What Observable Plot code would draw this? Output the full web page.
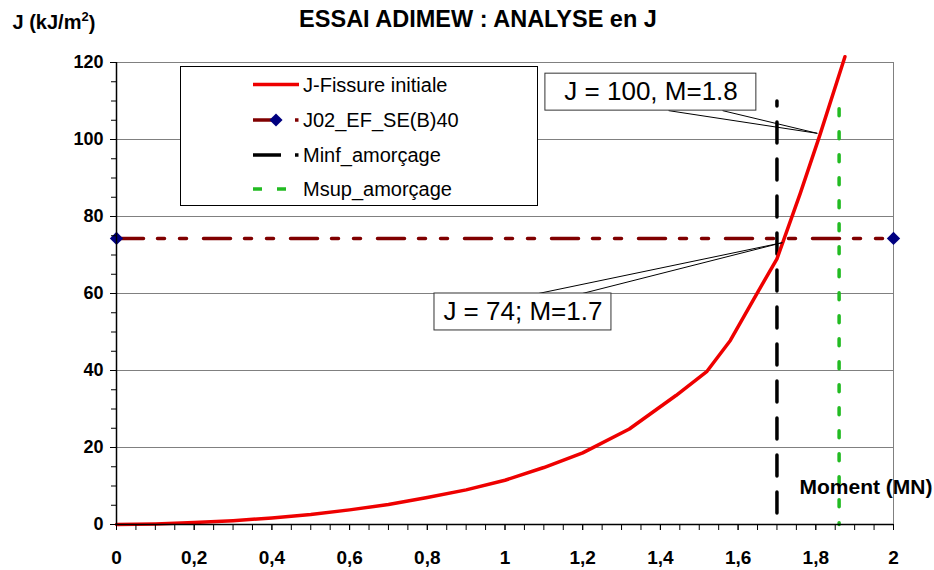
<!DOCTYPE html>
<html><head><meta charset="utf-8">
<script src="https://cdn.jsdelivr.net/npm/d3@7"></script>
<script src="https://cdn.jsdelivr.net/npm/@observablehq/plot@0.6"></script>
<style>
html,body{margin:0;padding:0;background:#fff;}
#chart svg{display:block;}
</style></head><body><div id="chart"></div>
<script>
// ---- data ----
const momentX  = [0, 0.1, 0.2, 0.3, 0.4, 0.5, 0.6, 0.7, 0.8, 0.9, 1.0, 1.1, 1.2, 1.32, 1.44, 1.52, 1.58, 1.64, 1.70, 1.76, 1.81, 1.875];
const jFissure = [0, 0.15, 0.5, 1.0, 1.7, 2.6, 3.8, 5.2, 7.0, 9.0, 11.5, 14.8, 18.6, 24.8, 33.5, 39.8, 47.8, 58.5, 69.0, 86, 101, 121.5];
const j02X = [0, 2];
const j02Value = 74.3;
const minfX = [1.7, 1.7];
const minfY = [110, 0];
const msupX = [1.86, 1.86];
const msupY = [108, 0];
const yMajor = [0, 20, 40, 60, 80, 100, 120];
const yMinor = [0,5,10,15,20,25,30,35,40,45,50,55,60,65,70,75,80,85,90,95,100,105,110,115,120];
const xMajor = [0, 0.2, 0.4, 0.6, 0.8, 1, 1.2, 1.4, 1.6, 1.8, 2];
const xMinor = [0,0.05,0.1,0.15,0.2,0.25,0.3,0.35,0.4,0.45,0.5,0.55,0.6,0.65,0.7,0.75,0.8,0.85,0.9,0.95,1,1.05,1.1,1.15,1.2,1.25,1.3,1.35,1.4,1.45,1.5,1.55,1.6,1.65,1.7,1.75,1.8,1.85,1.9,1.95,2];
const annLabels = ["J = 100, M=1.8", "J = 74; M=1.7"];
const annTextX  = [1.376, 1.046];
const annTextY  = [112.3, 55.2];
const annBoxX1  = [1.104, 0.8185];
const annBoxX2  = [1.647, 1.274];
const annBoxY1  = [107.5, 50.4];
const annBoxY2  = [117.1, 60.0];
const annBaseA  = [1.421, 1.086];
const annBaseB  = [1.560, 1.199];
const annBaseY  = [107.5, 60.0];
const annTipX   = [1.804, 1.714];
const annTipY   = [101.6, 73.2];
const legendLabels = ["J-Fissure initiale", "J02_EF_SE(B)40", "Minf_amorçage", "Msup_amorçage"];
const titleText = "ESSAI ADIMEW : ANALYSE en J";
const yLabelParts = ["J (kJ/m", "2", ")"];
const xLabelText = "Moment (MN)";

// ---- build ----
const fissure = momentX.map((m, i) => ({m, j: jFissure[i]}));
const j02 = j02X.map(x => ({x, y: j02Value}));
const minf = minfX.map((x, i) => ({x, y: minfY[i]}));
const msup = msupX.map((x, i) => ({x, y: msupY[i]}));
const ann = annLabels.map((label, i) => ({label, tx: annTextX[i], ty: annTextY[i],
  bx1: annBoxX1[i], bx2: annBoxX2[i], by1: annBoxY1[i], by2: annBoxY2[i],
  ba: annBaseA[i], bb: annBaseB[i], by: annBaseY[i], tipx: annTipX[i], tipy: annTipY[i]}));

const FONT = "'Liberation Sans', Arial, sans-serif";
const RED = "#ee0000", DARKRED = "#800000", NAVY = "#000080", GREEN = "#22bb22";
const yLabelJoined = yLabelParts.join("");

const plot = Plot.plot({
  width: 934, height: 570,
  marginLeft: 116, marginRight: 41, marginTop: 62, marginBottom: 46,
  x: {domain: [0, 2]},
  y: {domain: [0, 120]},
  style: {fontFamily: FONT, background: "#fff", overflow: "visible", color: "#000"},
  marks: [
    Plot.ruleY(yMajor.filter(v => v > 0), {stroke: "#808080", strokeWidth: 1}),
    Plot.ruleX([2], {stroke: "#808080", strokeWidth: 1}),
    Plot.line(j02, {x: "x", y: "y", stroke: DARKRED, strokeWidth: 3.5, strokeDasharray: "27,14,7,15,7,17"}),
    Plot.line(minf, {x: "x", y: "y", stroke: "#000", strokeWidth: 3.5, strokeDasharray: "21,16", strokeDashoffset: 16}),
    Plot.line(msup, {x: "x", y: "y", stroke: GREEN, strokeWidth: 3.5, strokeDasharray: "7,16"}),
    Plot.line(fissure, {x: "m", y: "j", stroke: RED, strokeWidth: 3.5}),
    Plot.dot(j02, {x: "x", y: "y", symbol: "diamond2", r: 6, fill: NAVY, stroke: "none"}),
    Plot.axisY({ticks: yMinor, tickSize: 5, tickFormat: () => "", label: null}),
    Plot.axisY({ticks: yMajor, tickSize: 6, tickPadding: 7, tickFormat: d => String(d), fontSize: 18, fontWeight: "bold", label: null}),
    Plot.axisX({ticks: xMinor, tickSize: 6, tickFormat: () => "", label: null}),
    Plot.axisX({ticks: xMajor, tickSize: 6, tickPadding: 20, tickFormat: d => String(d).replace(".", ","), fontSize: 19, fontWeight: "bold", label: null}),
    Plot.ruleX([0], {stroke: "#000", strokeWidth: 1.5}),
    Plot.ruleY([0], {stroke: "#000", strokeWidth: 1.5}),
    Plot.link(ann, {x1: "ba", y1: "by", x2: "tipx", y2: "tipy", stroke: "#000", strokeWidth: 1}),
    Plot.link(ann, {x1: "bb", y1: "by", x2: "tipx", y2: "tipy", stroke: "#000", strokeWidth: 1}),
    Plot.rect(ann, {x1: "bx1", x2: "bx2", y1: "by1", y2: "by2", fill: "#fff", stroke: "#333", strokeWidth: 1}),
    Plot.text(ann, {x: "tx", y: "ty", text: "label", fontSize: 26, fill: "#000"}),
    Plot.text([titleText], {text: d => d, frameAnchor: "top", lineAnchor: "middle", dx: -27, dy: -43, fontSize: 23.5, fontWeight: "bold"}),
    Plot.text([yLabelJoined], {text: d => d, frameAnchor: "top-left", lineAnchor: "middle", textAnchor: "start", dx: -104, dy: -40, fontSize: 20, fontWeight: "bold"}),
    Plot.text([xLabelText], {text: d => d, frameAnchor: "bottom-right", lineAnchor: "middle", textAnchor: "end", dx: 39, dy: -37, fontSize: 21, fontWeight: "bold"})
  ]
});
document.getElementById("chart").appendChild(plot);

// ---- layout touches ----
const svg = d3.select(plot);
const yl = svg.selectAll("text").filter(function() { return this.textContent === yLabelJoined; });
if (!yl.empty()) {
  yl.text(null);
  yl.append("tspan").text(yLabelParts[0]);
  yl.append("tspan").attr("font-size", 13).attr("dy", "-0.6em").text(yLabelParts[1]);
  yl.append("tspan").attr("dy", "0.43em").text(yLabelParts[2]);
}
const xl = svg.selectAll("text").filter(function() { return this.textContent === xLabelText; });
if (!xl.empty()) {
  const node = xl.node();
  const bb = node.getBBox();
  d3.select(node.parentNode).insert("rect", () => node)
    .attr("x", bb.x - 6).attr("y", bb.y - 3).attr("width", bb.width + 8).attr("height", bb.height + 6).attr("fill", "#fff");
}
const lg = svg.append("g").attr("font-family", FONT).attr("text-anchor", "start");
lg.append("rect").attr("x", 180.5).attr("y", 66.5).attr("width", 357).attr("height", 139).attr("fill", "#fff").attr("stroke", "#000").attr("stroke-width", 1);
const rowY = [84.5, 120, 155, 189];
lg.append("line").attr("x1", 253).attr("x2", 299).attr("y1", rowY[0]).attr("y2", rowY[0]).attr("stroke", RED).attr("stroke-width", 3.5);
lg.append("line").attr("x1", 253).attr("x2", 276).attr("y1", rowY[1]).attr("y2", rowY[1]).attr("stroke", DARKRED).attr("stroke-width", 3.5);
lg.append("path").attr("d", d3.symbol(d3.symbolDiamond2, 110)()).attr("transform", `translate(276,${rowY[1]})`).attr("fill", NAVY);
lg.append("rect").attr("x", 295).attr("y", rowY[1] - 1.75).attr("width", 3.5).attr("height", 3.5).attr("fill", DARKRED);
lg.append("line").attr("x1", 253).attr("x2", 281).attr("y1", rowY[2]).attr("y2", rowY[2]).attr("stroke", "#000").attr("stroke-width", 3.5);
lg.append("rect").attr("x", 295).attr("y", rowY[2] - 1.75).attr("width", 3.5).attr("height", 3.5).attr("fill", "#000");
lg.append("line").attr("x1", 253).attr("x2", 287).attr("y1", rowY[3]).attr("y2", rowY[3]).attr("stroke", GREEN).attr("stroke-width", 3.5).attr("stroke-dasharray", "9,15");
legendLabels.forEach((t, i) => {
  lg.append("text").attr("x", 303).attr("y", rowY[i]).attr("dy", "0.35em").attr("font-size", 20).attr("fill", "#000").text(t);
});
</script></body></html>
